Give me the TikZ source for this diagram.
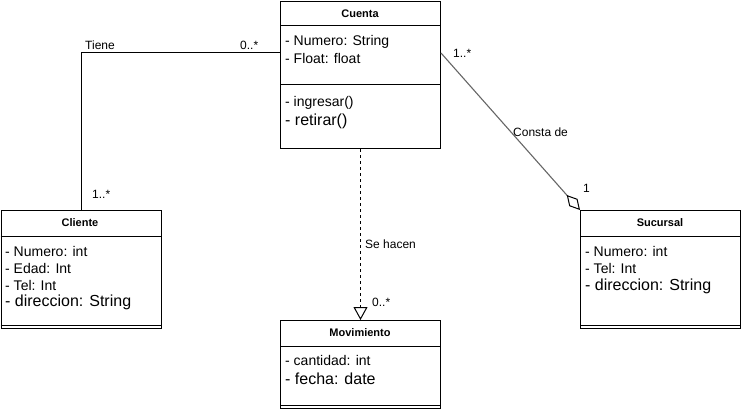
\documentclass[tikz,border=0pt]{standalone}
\usepackage{fontspec}
\setmainfont{Liberation Sans}
\usetikzlibrary{arrows.meta}
\definecolor{assoc}{RGB}{102,102,102}
\tikzset{
  classbox/.style={draw=black, line width=1pt, fill=white, inner sep=0pt, anchor=north west, minimum width=160pt},
  classtitle/.style={font=\fontsize{11}{13}\selectfont\bfseries, inner sep=0pt, anchor=center},
  attr/.style={font=\fontsize{14}{16}\selectfont, inner sep=0pt, anchor=west},
  attrbig/.style={font=\fontsize{16}{18}\selectfont, inner sep=0pt, anchor=west},
  lbl/.style={font=\fontsize{12}{14}\selectfont, inner sep=0pt, anchor=west},
  conn/.style={draw=black, line width=1pt},
}
\begin{document}
\begin{tikzpicture}[x=1pt,y=-1pt]
\useasboundingbox (0,0) rectangle (741,409);
% classes
\node[classbox, minimum height=147pt] (cuenta) at (280,1) {};
\node[classbox, minimum height=118pt] (cliente) at (0.5,210) {};
\node[classbox, minimum height=118pt] (sucursal) at (580,210) {};
\node[classbox, minimum height=88pt] (movimiento) at (280,320) {};
% compartments
\draw[conn] ([yshift=-25pt]cuenta.north west) -- ([yshift=-25pt]cuenta.north east);
\draw[conn] ([yshift=-84pt]cuenta.north west) -- ([yshift=-84pt]cuenta.north east);
\draw[conn] ([yshift=-26pt]cliente.north west) -- ([yshift=-26pt]cliente.north east);
\draw[conn] ([yshift=4pt]cliente.south west) -- ([yshift=4pt]cliente.south east);
\draw[conn] ([yshift=-26pt]sucursal.north west) -- ([yshift=-26pt]sucursal.north east);
\draw[conn] ([yshift=4pt]sucursal.south west) -- ([yshift=4pt]sucursal.south east);
\draw[conn] ([yshift=-26pt]movimiento.north west) -- ([yshift=-26pt]movimiento.north east);
\draw[conn] ([yshift=4pt]movimiento.south west) -- ([yshift=4pt]movimiento.south east);
% titles
\node[classtitle] (tcuenta) at (360,13.5) {Cuenta};
\node[classtitle] (tcliente) at (80,223) {Cliente};
\node[classtitle] (tsucursal) at (660,223) {Sucursal};
\node[classtitle] (tmov) at (360,333) {Movimiento};
% attributes
\node[attr] (c1) at (285,42) {- Numero: String};
\node[attr] (c2) at (285,58) {- Float: float};
\node[attr] (c3) at (285,103) {- ingresar()};
\node[attrbig] (c4) at (285,121) {- retirar()};
\node[attr] (k1) at (5,251) {- Numero: int};
\node[attr] (k2) at (5,268) {- Edad: Int};
\node[attr] (k3) at (5,285) {- Tel: Int};
\node[attrbig] (k4) at (5,302) {- direccion: String};
\node[attr] (s1) at (585,251) {- Numero: int};
\node[attr] (s2) at (585,268) {- Tel: Int};
\node[attrbig] (s3) at (585,286) {- direccion: String};
\node[attr] (m1) at (285,360) {- cantidad: int};
\node[attrbig] (m2) at (285,379) {- fecha: date};
% connectors
\draw[conn] ([yshift=-52pt]cuenta.north west) -| (cliente.north);
\draw[draw=assoc, line width=1.1pt, -{Diamond[open, length=20pt, width=11pt, color=black, line width=1pt]}] ([yshift=-52pt]cuenta.north east) -- (sucursal.north west);
\draw[conn, dash pattern=on 3pt off 3pt, -{Triangle[open, length=13pt, width=14pt, line width=1pt]}] (cuenta.south) -- (movimiento.north);
% labels
\node[lbl] (ltiene) at (85,45) {Tiene};
\node[lbl] (l0a) at (240,45) {0..*};
\node[lbl] (l1a) at (92,194) {1..*};
\node[lbl] (l1b) at (453,53) {1..*};
\node[lbl] (lconsta) at (513,132) {Consta de};
\node[lbl] (l1c) at (583,188) {1};
\node[lbl] (lse) at (365,244) {Se hacen};
\node[lbl] (l0b) at (372,302) {0..*};
\end{tikzpicture}
\end{document}
